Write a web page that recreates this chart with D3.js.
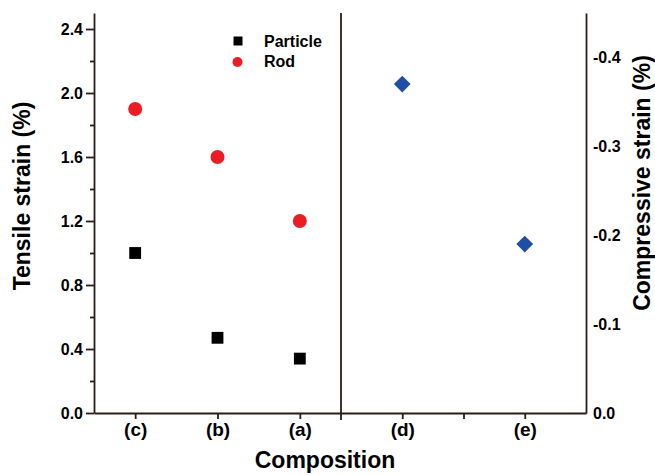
<!DOCTYPE html>
<html>
<head>
<meta charset="utf-8">
<script src="https://cdn.jsdelivr.net/npm/d3@7"></script>
<style>
  body { margin: 0; background: #fff; }
  svg text { font-family: "Liberation Sans", Arial, Helvetica, sans-serif; font-weight: bold; fill: #000; }
  .axis path, .axis line { stroke: #2a1d17; stroke-width: 1.8; }
</style>
</head>
<body>
<svg id="chart" width="655" height="475"></svg>
<script>
// tensile part (left panel)
const tensileCats = ["(c)", "(b)", "(a)"]
const particle = [1.0, 0.47, 0.34]
const rod = [1.9, 1.6, 1.2]
// compressive part (right panel)
const compCats = ["(d)", "(e)"]
const compPos = [1, 3]
const compressive = [-0.37, -0.19]

const leftTicks = [0, 0.4, 0.8, 1.2, 1.6, 2.0, 2.4]
const leftMinor = [0.2, 0.6, 1.0, 1.4, 1.8, 2.2]
const rightTicks = [0, -0.1, -0.2, -0.3, -0.4]

const svg = d3.select("#chart")
const m = { left: 94, right: 586, top: 13, bottom: 413, split: 341 }

const yL = d3.scaleLinear().domain([0, 2.5]).range([m.bottom, m.top])
const yR = d3.scaleLinear().domain([0, -0.45]).range([m.bottom, m.top])
const xL = d3.scalePoint().domain(tensileCats).range([m.left, m.split]).padding(0.5)
const xR = d3.scaleLinear().domain([0, 4]).range([m.split, m.right])

// left axis
svg.append("g").attr("class", "axis")
    .attr("transform", `translate(${m.left},0)`)
    .call(d3.axisLeft(yL).tickValues(leftTicks).tickSize(8).tickSizeOuter(0)
        .tickPadding(3).tickFormat(d => d.toFixed(1)))
    .call(g => g.selectAll("text").style("font-size", "16px"))
svg.append("g").attr("class", "axis")
    .attr("transform", `translate(${m.left},0)`)
    .call(d3.axisLeft(yL).tickValues(leftMinor).tickSize(4).tickSizeOuter(0).tickFormat(""))
    .call(g => g.select(".domain").remove())

// right axis, no tick marks
svg.append("g").attr("class", "axis")
    .attr("transform", `translate(${m.right},0)`)
    .call(d3.axisRight(yR).tickValues(rightTicks).tickSize(0).tickSizeOuter(0)
        .tickPadding(7).tickFormat(d => d.toFixed(1)))
    .call(g => g.selectAll("text").style("font-size", "16px"))

// bottom axes
svg.append("g").attr("class", "axis")
    .attr("transform", `translate(0,${m.bottom})`)
    .call(d3.axisBottom(xL).tickSize(6).tickSizeOuter(0).tickPadding(4))
    .call(g => g.selectAll("text").style("font-size", "19px"))
svg.append("g").attr("class", "axis")
    .attr("transform", `translate(0,${m.bottom})`)
    .call(d3.axisBottom(xR).tickValues(compPos).tickSize(6).tickSizeOuter(0).tickPadding(4)
        .tickFormat((d, i) => compCats[i]))
    .call(g => g.selectAll("text").style("font-size", "19px"))
svg.append("g").attr("class", "axis")
    .attr("transform", `translate(0,${m.bottom})`)
    .call(d3.axisBottom(xR).tickValues([2]).tickSize(6).tickSizeOuter(0).tickFormat(""))
    .call(g => g.select(".domain").remove())

// divider between the two panels
svg.append("line")
    .attr("x1", m.split).attr("x2", m.split)
    .attr("y1", m.top).attr("y2", m.bottom + 7)
    .attr("stroke", "#2a1d17").attr("stroke-width", 1.8)

// markers
const sq = d3.symbol().type(d3.symbolSquare).size(140)
svg.selectAll(".particle").data(particle).join("path")
    .attr("class", "particle")
    .attr("d", sq)
    .attr("transform", (d, i) => `translate(${xL(tensileCats[i])},${yL(d)})`)
    .attr("fill", "#000")

svg.selectAll(".rod").data(rod).join("circle")
    .attr("class", "rod")
    .attr("cx", (d, i) => xL(tensileCats[i]))
    .attr("cy", d => yL(d))
    .attr("r", 7)
    .attr("fill", "#ec1c24")

svg.selectAll(".comp").data(compressive).join("path")
    .attr("class", "comp")
    .attr("d", sq)
    .attr("transform", (d, i) => `translate(${xR(compPos[i])},${yR(d)}) rotate(45)`)
    .attr("fill", "#1f4ea6")

// legend
const legend = svg.append("g")
legend.append("rect").attr("x", 233.5).attr("y", 36.5).attr("width", 9).attr("height", 9).attr("fill", "#000")
legend.append("circle").attr("cx", 237.5).attr("cy", 62).attr("r", 5).attr("fill", "#ec1c24")
legend.append("text").attr("x", 264).attr("y", 47).style("font-size", "16px").text("Particle")
legend.append("text").attr("x", 264).attr("y", 67).style("font-size", "16px").text("Rod")

// axis titles
svg.append("text")
    .attr("transform", "translate(30,196) rotate(-90)")
    .attr("text-anchor", "middle")
    .style("font-size", "23px")
    .text("Tensile strain (%)")
svg.append("text")
    .attr("transform", "translate(650,183) rotate(-90)")
    .attr("text-anchor", "middle")
    .style("font-size", "23px")
    .text("Compressive strain (%)")
svg.append("text")
    .attr("x", 325).attr("y", 468)
    .attr("text-anchor", "middle")
    .style("font-size", "23px")
    .text("Composition")
</script>
</body>
</html>
